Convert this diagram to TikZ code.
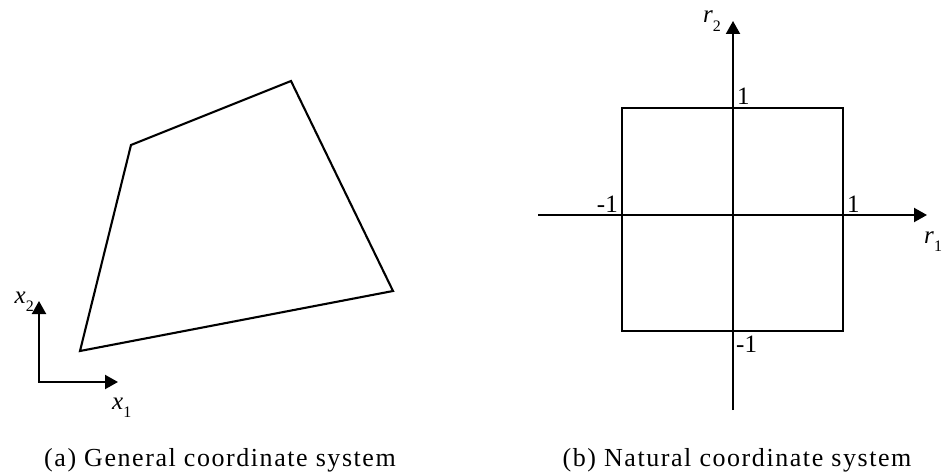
\documentclass[tikz,border=0pt]{standalone}
\usepackage{fontspec}
\setmainfont{Liberation Serif}
\newfontfamily\capfont[LetterSpace=6]{Liberation Serif}
\usetikzlibrary{arrows.meta}
\newcommand{\axlab}[2]{\textit{#1}\raisebox{-0.35em}{\fontsize{16}{16}\selectfont #2}}
\begin{document}
\begin{tikzpicture}[x=1pt,y=-1pt,
  edge/.style={line width=2.1pt,line join=miter},
  axis/.style={line width=2.1pt,-{Triangle[length=13pt,width=14pt]}},
  lab/.style={font=\fontsize{25}{25}\selectfont,inner sep=1pt},
  captext/.style={font=\capfont\fontsize{26}{26}\selectfont,inner sep=0pt}]
\useasboundingbox (0,0) rectangle (944,476);
% (a) general quadrilateral
\coordinate (A) at (80,351);
\coordinate (B) at (131,145);
\coordinate (C) at (291,81);
\coordinate (D) at (393,291);
\draw[edge] (A) -- (B) -- (C) -- (D) -- cycle;
\coordinate (O) at (39,382);
\coordinate (X2) at (39,301);
\coordinate (X1) at (118,382);
\draw[axis] (O) -- (X2);
\draw[axis,shorten <=-1.05pt] (O) -- (X1);
\node[lab,anchor=base east] (lx2) at (35,303) {\axlab{x}{2}};
\node[lab,anchor=base west] (lx1) at (111,409) {\axlab{x}{1}};
% (b) natural square
\coordinate (S1) at (622,108);
\coordinate (S2) at (843,331);
\draw[edge] (S1) rectangle (S2);
\coordinate (HL) at (538,215);
\coordinate (HR) at (927,215);
\coordinate (VB) at (733,410);
\coordinate (VT) at (733,21);
\draw[axis] (HL) -- (HR);
\draw[axis] (VB) -- (VT);
\node[lab,anchor=base east] (m1l) at (619,212) {-1};
\node[lab,anchor=base west] (p1r) at (846,212) {1};
\node[lab,anchor=base west] (p1t) at (736,105) {1};
\node[lab,anchor=base west] (m1b) at (735,352) {-1};
\node[lab,anchor=base east] (lr2) at (722,23) {\axlab{r}{2}};
\node[lab,anchor=base west] (lr1) at (923,243) {\axlab{r}{1}};
% captions
\node[captext,anchor=base] (capa) at (220,466) {(a) General coordinate system};
\node[captext,anchor=base] (capb) at (737,466) {(b) Natural coordinate system};
\end{tikzpicture}
\end{document}
